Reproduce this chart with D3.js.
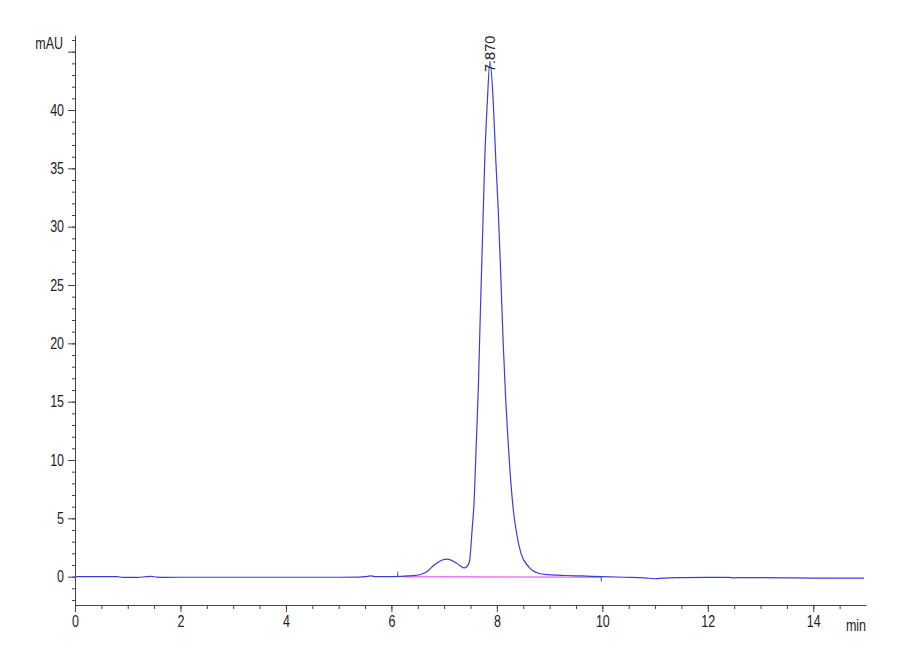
<!DOCTYPE html>
<html>
<head>
<meta charset="utf-8">
<script src="https://cdn.jsdelivr.net/npm/d3@7"></script>
<style>
  body { margin: 0; background: #fff; }
  .axis text, .unit { font-family: "Liberation Sans", Arial, sans-serif; font-size: 16px; fill: #222; }
  .axis path, .axis line { stroke: #444; }
</style>
</head>
<body>
<svg id="chart" width="900" height="660"></svg>
<script>
// retention time (min) and detector signal (mAU)
const retTime = [0, 0.4, 0.8, 0.9, 1.2, 1.35, 1.45, 1.55, 1.7, 2, 3, 4, 5, 5.4, 5.55, 5.62, 5.7, 6, 6.2,
  6.4, 6.58, 6.68, 6.79, 6.9, 6.98, 7.05, 7.12, 7.2, 7.3, 7.38, 7.43, 7.48, 7.53, 7.57, 7.61, 7.65,
  7.68, 7.71, 7.74, 7.77, 7.82, 7.87, 7.93, 7.98, 8.03, 8.07, 8.12, 8.17, 8.21, 8.25, 8.31, 8.375, 8.457,
  8.6, 8.79, 8.97, 9.3, 9.6, 10, 10.4, 10.8, 11, 11.15, 11.5, 12, 12.4, 12.5, 12.6, 13.5, 14, 14.96];
const signal = [0, 0, 0, -0.06, -0.06, 0, 0.02, -0.04, -0.06, -0.05, -0.05, -0.05, -0.05, -0.04, 0.03, 0.06, 0, 0, 0.03,
  0.08, 0.23, 0.45, 0.92, 1.28, 1.45, 1.5, 1.44, 1.25, 0.95, 0.75, 0.85, 1.3, 4.0, 6.6, 11.5, 16.4,
  21.5, 26.3, 31.0, 35.7, 40.8, 44.2, 40.8, 35.7, 31.0, 26.3, 20.0, 15.0, 11.8, 9.0, 5.8, 3.7, 2.0,
  0.86, 0.29, 0.17, 0.1, 0.06, 0, -0.05, -0.1, -0.18, -0.12, -0.08, -0.06, -0.06, -0.1, -0.08, -0.1, -0.12, -0.12];

// integration baseline and event marks
const baseTime = [6.22, 9.98];
const baseValue = [0.0, -0.05];
const eventTime = [6.12, 9.98];
const eventDir = [1, -1];

// peak annotation
const peakTime = [7.870];
const peakLabel = ["7.870"];

const xTickLabels = [0, 2, 4, 6, 8, 10, 12, 14];
const yTickLabels = [0, 5, 10, 15, 20, 25, 30, 35, 40];

const narrow = 0.78; // squeeze the sans font to look like the narrow face in the original

const svg = d3.select("#chart");
const x = d3.scaleLinear().domain([0, 15]).range([75, 866]);
const y = d3.scaleLinear().domain([-2.43, 46.43]).range([605, 35]);

// minor ticks first, then major with labels
const xMinor = d3.range(0, 15, 0.5);
const yMinor = d3.range(-2, 47, 1);

svg.append("g").attr("class", "axis")
  .attr("transform", "translate(0,605)")
  .call(d3.axisBottom(x).tickValues(xMinor).tickSize(4).tickFormat(""))
  .call(g => g.select(".domain").remove());
svg.append("g").attr("class", "axis")
  .attr("transform", "translate(0,605)")
  .call(d3.axisBottom(x).tickValues(xTickLabels).tickSize(7).tickSizeOuter(0).tickPadding(4).tickFormat(d3.format("d")))
  .call(g => g.selectAll(".tick text").attr("transform", "scale(" + narrow + ",1)"));

svg.append("g").attr("class", "axis")
  .attr("transform", "translate(75,0)")
  .call(d3.axisLeft(y).tickValues(yMinor).tickSize(3).tickFormat(""))
  .call(g => g.select(".domain").remove());
svg.append("g").attr("class", "axis")
  .attr("transform", "translate(75,0)")
  .call(d3.axisLeft(y).tickValues(yTickLabels.concat([45])).tickSize(7).tickSizeOuter(0).tickPadding(4)
    .tickFormat(d => d === 45 ? "" : d))
  .call(g => g.selectAll(".tick text")
    .attr("x", -11 / narrow)
    .attr("transform", "scale(" + narrow + ",1)"));

// unit labels
svg.append("text").attr("class", "unit")
  .attr("transform", "translate(63,49) scale(" + narrow + ",1)")
  .attr("text-anchor", "end").text("mAU");
svg.append("text").attr("class", "unit")
  .attr("transform", "translate(866,631) scale(" + narrow + ",1)")
  .attr("text-anchor", "end").text("min");

// baseline (pink)
svg.append("path")
  .datum(d3.zip(baseTime, baseValue))
  .attr("fill", "none").attr("stroke", "#f07cf0").attr("stroke-width", 1.6)
  .attr("d", d3.line().x(d => x(d[0])).y(d => y(d[1])));

// event marks
svg.selectAll(".event")
  .data(eventTime)
  .enter().append("line")
  .attr("class", "event")
  .attr("x1", d => x(d)).attr("x2", d => x(d))
  .attr("y1", y(0))
  .attr("y2", (d, i) => y(0) - eventDir[i] * 5)
  .attr("stroke", "#555").attr("stroke-width", 1);

// trace
svg.append("path")
  .datum(d3.zip(retTime, signal))
  .attr("fill", "none").attr("stroke", "#3c3cdc").attr("stroke-width", 1.2)
  .attr("d", d3.line().curve(d3.curveMonotoneX).x(d => x(d[0])).y(d => y(d[1])));

// peak label
svg.selectAll(".peak")
  .data(peakTime)
  .enter().append("text")
  .attr("class", "peak")
  .attr("transform", d => "translate(" + x(d) + ",72) rotate(-90)")
  .attr("dy", "0.35em")
  .style("font-family", "'Liberation Sans', Arial, sans-serif")
  .style("font-size", "14.5px").attr("fill", "#222")
  .text((d, i) => peakLabel[i]);
</script>
</body>
</html>
